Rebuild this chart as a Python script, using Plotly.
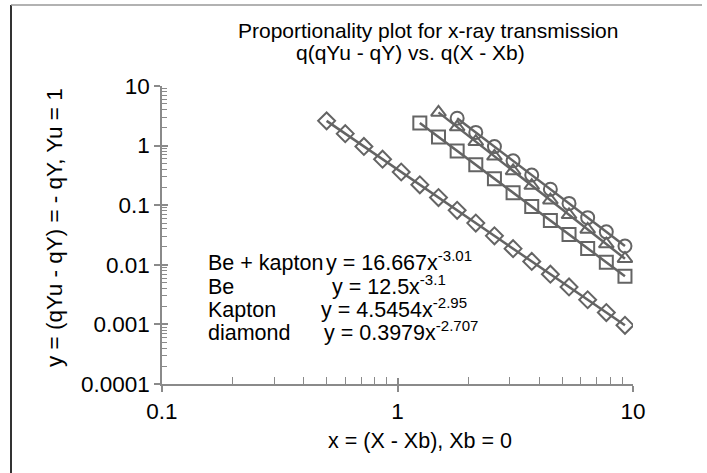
import numpy as np
import plotly.graph_objects as go

# ---- data -------------------------------------------------------------
series_names = ["Be + kapton", "Be", "Kapton", "diamond"]

x_be_kapton = [1.792, 2.150, 2.580, 3.096, 3.715, 4.458, 5.350, 6.420, 7.704, 9.245]
y_be_kapton = [2.880, 1.664, 0.9613, 0.5553, 0.3208, 0.1853, 0.1071, 0.06185, 0.03572, 0.02063]

x_be = [1.493, 1.792, 2.150, 2.580, 3.096, 3.715, 4.458, 5.350, 6.420, 7.704, 9.245]
y_be = [3.609, 2.050, 1.165, 0.6623, 0.3763, 0.2139, 0.1215, 0.06901, 0.03923, 0.02229, 0.01266]

x_kapton = [1.244, 1.493, 1.792, 2.150, 2.580, 3.096, 3.715, 4.458, 5.350, 6.420, 7.704, 9.245]
y_kapton = [2.386, 1.394, 0.8136, 0.4754, 0.2775, 0.1621, 0.09468, 0.05527, 0.03229, 0.01886, 0.01101, 0.006432]

x_diamond = [0.500, 0.600, 0.720, 0.864, 1.037, 1.244, 1.493, 1.792, 2.150, 2.580,
             3.096, 3.715, 4.458, 5.350, 6.420, 7.704, 9.245]
y_diamond = [2.600, 1.586, 0.968, 0.591, 0.3607, 0.2202, 0.1344, 0.0821, 0.0501, 0.0306,
             0.01866, 0.01139, 0.00696, 0.004246, 0.002592, 0.001582, 0.000966]

# power-law fits y = a * x^b
fit_a = [16.667, 12.5, 4.5454, 0.3979]
fit_b = [-3.01, -3.1, -2.95, -2.707]
fit_labels = ["16.667", "12.5", "4.5454", "0.3979"]
fit_exps = ["-3.01", "-3.1", "-2.95", "-2.707"]

x_tick_vals = [0.1, 1, 10]
x_tick_text = ["0.1", "1", "10"]
y_tick_vals = [10, 1, 0.1, 0.01, 0.001, 0.0001]
y_tick_text = ["10", "1", "0.1", "0.01", "0.001", "0.0001"]

# ---- figure geometry (pixels) ----------------------------------------
W, H = 707, 473
L, R, T, B = 162, 633, 86, 384
FONT = "Liberation Sans, Arial, sans-serif"
GREY = "#646464"
AXIS = "#8a8a8a"
TXT = 21.5


def px_x(p):
    return (p - L) / (R - L)


def px_y(p):
    return (B - p) / (B - T)


xs_all = [x_be_kapton, x_be, x_kapton, x_diamond]
ys_all = [y_be_kapton, y_be, y_kapton, y_diamond]
symbols = ["circle-open", "triangle-up-open", "square-open", "diamond-open"]
sizes = [13, 13, 13, 13]

fig = go.Figure()

# fitted trend lines
for xs, a, b in zip(xs_all, fit_a, fit_b):
    xl = np.array([min(xs), max(xs)])
    fig.add_trace(go.Scatter(x=xl, y=a * xl ** b, mode="lines",
                             line=dict(color=GREY, width=2.5),
                             showlegend=False, hoverinfo="skip"))

# measured points
for name, xs, ys, sym, sz in zip(series_names, xs_all, ys_all, symbols, sizes):
    fig.add_trace(go.Scatter(x=xs, y=ys, mode="markers", name=name,
                             marker=dict(symbol=sym, size=sz, color=GREY,
                                         line=dict(color=GREY, width=2)),
                             showlegend=False))

# invisible trace so the overlay axes (inner half of major ticks) render
fig.add_trace(go.Scatter(x=[1], y=[1], xaxis="x2", yaxis="y2", mode="markers",
                         marker=dict(opacity=0), showlegend=False, hoverinfo="skip"))

minor_vals = [m * 10.0 ** e for e in range(-5, 2) for m in range(2, 10)]

axis_common = dict(type="log", showgrid=False, zeroline=False,
                   tickfont=dict(family=FONT, size=22.5, color="#000"))

fig.update_layout(
    width=W, height=H,
    margin=dict(l=L, r=W - R, t=T, b=H - B),
    paper_bgcolor="white", plot_bgcolor="white",
    showlegend=False,
    xaxis=dict(**axis_common, range=[-1, 1], tickvals=x_tick_vals, ticktext=x_tick_text,
               ticks="outside", ticklen=6, tickcolor=AXIS, tickwidth=1.5,
               showline=True, linecolor=AXIS, linewidth=1.5,
               minor=dict(tickvals=minor_vals, ticks="inside", ticklen=7,
                          tickcolor=AXIS, tickwidth=1.2, showgrid=False)),
    yaxis=dict(**axis_common, range=[-4, 1], tickvals=y_tick_vals, ticktext=y_tick_text,
               ticks="outside", ticklen=6, tickcolor=AXIS, tickwidth=1.5,
               showline=True, linecolor=AXIS, linewidth=1.5,
               minor=dict(tickvals=minor_vals, ticks="inside", ticklen=5,
                          tickcolor=AXIS, tickwidth=1.2, showgrid=False)),
    xaxis2=dict(type="log", range=[-1, 1], overlaying="x", showgrid=False, zeroline=False,
                tickvals=x_tick_vals, showticklabels=False, ticks="inside", ticklen=6,
                tickcolor=AXIS, tickwidth=1.5, showline=False),
    yaxis2=dict(type="log", range=[-4, 1], overlaying="y", showgrid=False, zeroline=False,
                tickvals=y_tick_vals, showticklabels=False, ticks="inside", ticklen=6,
                tickcolor=AXIS, tickwidth=1.5, showline=False),
)

annotations = []


def add_text(text, x, y, xanchor="center", size=TXT, **kw):
    annotations.append(dict(text=text, x=px_x(x), y=px_y(y), xref="paper", yref="paper",
                            xanchor=xanchor, yanchor="middle", showarrow=False,
                            font=dict(family=FONT, size=size, color="#000"), **kw))


# chart title (two lines)
add_text("Proportionality plot for x-ray transmission", 428, 30, size=21)
add_text("q(qYu - qY) vs. q(X - Xb)", 410, 52, size=21)

# axis titles
add_text("x = (X - Xb), Xb = 0", 420, 441)
add_text("y = (qYu - qY) = - qY, Yu = 1", 54, 228, textangle=-90, size=22.5)

# series names and fit equations
label_rows = [263, 287, 310, 333]
eq_left = [324, 330, 319, 322]
for name, row, xl, a_txt, b_txt in zip(series_names, label_rows, eq_left, fit_labels, fit_exps):
    add_text(name, 206, row, xanchor="left")
    add_text(f"y = {a_txt}x<sup>{b_txt}</sup>", xl, row - 2, xanchor="left")

fig.update_layout(annotations=annotations)

# frame lines around the chart
fig.add_shape(type="line", xref="paper", yref="paper",
              x0=px_x(11), x1=px_x(11), y0=px_y(5), y1=px_y(480),
              line=dict(color="#333333", width=2))
fig.add_shape(type="line", xref="paper", yref="paper",
              x0=px_x(11), x1=px_x(702), y0=px_y(5), y1=px_y(5),
              line=dict(color="#999999", width=1.5))

fig.write_html("out.html")
